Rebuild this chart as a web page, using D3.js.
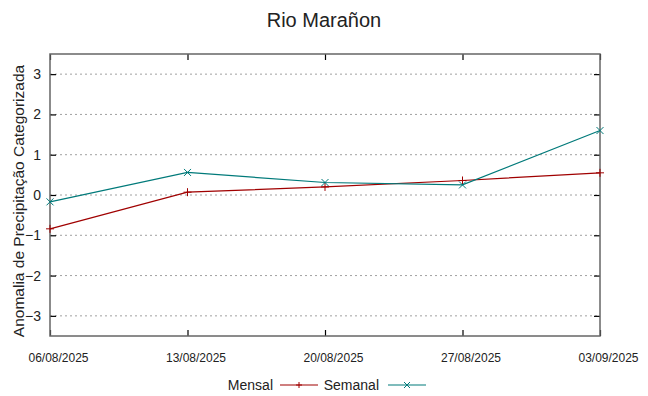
<!DOCTYPE html>
<html>
<head>
<meta charset="utf-8">
<script src="https://cdn.jsdelivr.net/npm/d3@7"></script>
<style>
  body { margin: 0; background: #fff; }
  text { font-family: "Liberation Sans", Arial, sans-serif; fill: #222; }
</style>
</head>
<body>
<div id="chart"></div>
<script>
const dates = ["06/08/2025", "13/08/2025", "20/08/2025", "27/08/2025", "03/09/2025"];
const mensal = [-0.84, 0.07, 0.20, 0.36, 0.55];
const semanal = [-0.17, 0.56, 0.31, 0.25, 1.60];
const yTicks = [-3, -2, -1, 0, 1, 2, 3];

const W = 648, H = 396;
const margin = {top: 54, right: 48, bottom: 60, left: 50},
    width = W - margin.left - margin.right,
    height = H - margin.top - margin.bottom;

const svg = d3.select("#chart")
    .append("svg")
    .attr("width", W)
    .attr("height", H);

const g = svg.append("g")
    .attr("transform", `translate(${margin.left},${margin.top})`);

const parse = d3.timeParse("%d/%m/%Y");
const x = d3.scaleTime()
    .domain([parse(dates[0]), parse(dates[dates.length - 1])])
    .range([0, width]);

const y = d3.scaleLinear()
    .domain([-3.5, 3.5])
    .range([height, 0]);

// grid
g.append("g")
    .selectAll("line")
    .data(yTicks)
    .join("line")
    .attr("x1", 0)
    .attr("x2", width)
    .attr("y1", d => y(d))
    .attr("y2", d => y(d))
    .attr("stroke", "#a0a0a0")
    .attr("stroke-width", 1)
    .attr("stroke-dasharray", "2,3");

// axes
g.append("g")
    .attr("transform", `translate(0,${height})`)
    .call(d3.axisBottom(x).tickValues(dates.map(parse)).tickSize(-6).tickFormat(d3.timeFormat("%d/%m/%Y")))
    .call(a => a.select(".domain").remove())
    .call(a => a.selectAll("text").attr("y", 17).attr("dy", "0.71em").attr("dx", 8).style("font-size", "12px"));

g.append("g")
    .call(d3.axisTop(x).tickValues(dates.map(parse)).tickSize(-6).tickFormat(""))
    .call(a => a.select(".domain").remove());

g.append("g")
    .call(d3.axisLeft(y).tickValues(yTicks).tickSize(-6).tickFormat(d3.format("d")))
    .call(a => a.select(".domain").remove())
    .call(a => a.selectAll("text").attr("x", -9).style("font-size", "14px"));

g.append("g")
    .attr("transform", `translate(${width},0)`)
    .call(d3.axisRight(y).tickValues(yTicks).tickSize(-6).tickFormat(""))
    .call(a => a.select(".domain").remove());

g.selectAll(".tick line").attr("stroke", "#000").attr("stroke-width", 1.2);

g.append("rect")
    .attr("width", width)
    .attr("height", height)
    .attr("fill", "none")
    .attr("stroke", "#666")
    .attr("stroke-width", 1.5);

// series
const series = [
    {name: "Mensal", values: mensal, color: "#a00000", mark: "plus"},
    {name: "Semanal", values: semanal, color: "#007a7a", mark: "cross"}
];

const line = d3.line()
    .x((d, i) => x(parse(dates[i])))
    .y(d => y(d));

function marker(sel, type, color, s) {
    if (type === "plus") {
        sel.append("path").attr("d", `M${-s},0H${s}M0,${-s}V${s}`);
    } else {
        sel.append("path").attr("d", `M${-s},${-s}L${s},${s}M${-s},${s}L${s},${-s}`);
    }
    sel.select("path").attr("stroke", color).attr("stroke-width", 1).attr("fill", "none");
}

series.forEach(s => {
    g.append("path")
        .datum(s.values)
        .attr("fill", "none")
        .attr("stroke", s.color)
        .attr("stroke-width", 1.2)
        .attr("d", line);

    g.append("g")
        .selectAll("g")
        .data(s.values)
        .join("g")
        .attr("transform", (d, i) => `translate(${x(parse(dates[i]))},${y(d)})`)
        .each(function() { marker(d3.select(this), s.mark, s.color, s.mark === "plus" ? 4 : 3.5); });
});

// title
svg.append("text")
    .attr("x", 324)
    .attr("y", 27)
    .attr("text-anchor", "middle")
    .style("font-size", "20px")
    .text("Rio Marañon");

// y label
svg.append("text")
    .attr("transform", `translate(24,${margin.top + height / 2 + 6}) rotate(-90)`)
    .attr("text-anchor", "middle")
    .style("font-size", "15.5px")
    .text("Anomalia de Precipitação Categorizada");

// legend
const legendY = 385;
const legendItems = [
    {s: series[0], textEnd: 273, x1: 280, x2: 318},
    {s: series[1], textEnd: 379, x1: 388, x2: 426}
];
legendItems.forEach(it => {
    svg.append("text")
        .attr("x", it.textEnd)
        .attr("y", legendY + 5)
        .attr("text-anchor", "end")
        .style("font-size", "14px")
        .text(it.s.name);
    svg.append("line")
        .attr("x1", it.x1).attr("x2", it.x2)
        .attr("y1", legendY).attr("y2", legendY)
        .attr("stroke", it.s.color).attr("stroke-width", 1.2);
    const m = svg.append("g").attr("transform", `translate(${(it.x1 + it.x2) / 2},${legendY})`);
    marker(m, it.s.mark, it.s.color, 3);
});
</script>
</body>
</html>
